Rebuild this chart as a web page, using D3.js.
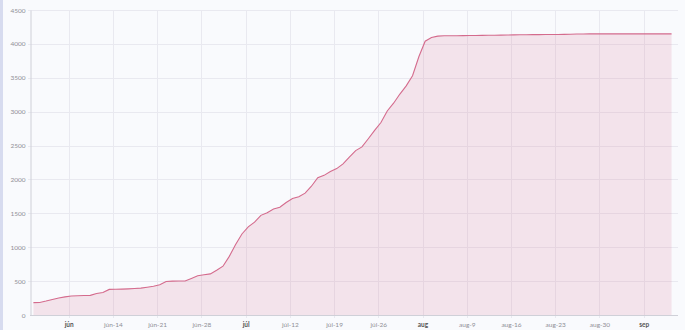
<!DOCTYPE html>
<html>
<head>
<meta charset="utf-8">
<script src="https://cdn.jsdelivr.net/npm/d3@7"></script>
<style>
  html, body { margin: 0; padding: 0; background: #f9fafd; }
  body { width: 685px; height: 330px; overflow: hidden; border-left: 3px solid #d7dbef; box-sizing: border-box; }
  svg { display: block; font-family: Lato, "Open Sans", sans-serif; }
</style>
</head>
<body>
<svg id="chart"></svg>
<script>
// daily cumulative values, starting 2020-06-01
const startDay = new Date(2020, 5, 1, 10);
const values = [
  182, 185, 206, 230, 252, 268, 281, 284, 287, 290,
  318, 333, 378, 380, 382, 385, 390, 396, 410, 425,
  445, 495, 500, 502, 502, 540, 578, 593, 607, 660,
  720, 865, 1040, 1195, 1300, 1370, 1470, 1510, 1565, 1590,
  1660, 1720, 1745, 1798, 1900, 2025, 2060, 2118, 2160, 2230,
  2330, 2425, 2480, 2600, 2725, 2840, 3010, 3125, 3260, 3380,
  3530, 3810, 4040, 4095, 4115, 4120, 4120, 4121, 4122, 4123,
  4124, 4125, 4127, 4128, 4130, 4131, 4133, 4134, 4135, 4136,
  4137, 4138, 4138, 4139, 4140, 4142, 4145, 4147, 4148, 4148,
  4148, 4148, 4148, 4148, 4148, 4148, 4148, 4148, 4148, 4148,
  4148, 4148
];
const yTicks = [0, 500, 1000, 1500, 2000, 2500, 3000, 3500, 4000, 4500];
const monthNames = ["jan", "feb", "mar", "apr", "máj", "jún", "júl", "aug", "sep", "okt", "nov", "dec"];

const data = values.map((v, i) => ({ date: d3.timeDay.offset(startDay, i), value: v }));

const width = 682, height = 330;
const plotLeft = 27, plotRight = 672, plotTop = 10, plotBottom = 315;

const svg = d3.select("#chart")
  .attr("width", width)
  .attr("height", height);

const x = d3.scaleTime()
  .domain([new Date(2020, 4, 31, 21), new Date(2020, 8, 10, 23)])
  .range([plotLeft, plotRight]);
const y = d3.scaleLinear()
  .domain([0, 4500])
  .range([plotBottom, plotTop]);

const weekTicks = x.ticks(d3.timeSunday.every(1));
const isMonthTick = d => d.getDate() <= 7;
const fmt = d => isMonthTick(d)
  ? monthNames[d.getMonth()]
  : monthNames[d.getMonth()] + "-" + d.getDate();

// grid
const grid = svg.append("g").attr("stroke", "#e9e9f0").attr("stroke-width", 1);
grid.selectAll("line.h")
  .data(yTicks.slice(1))
  .join("line")
    .attr("class", "h")
    .attr("x1", plotLeft - 2)
    .attr("x2", plotRight + 3)
    .attr("y1", d => Math.round(y(d)) + 0.5)
    .attr("y2", d => Math.round(y(d)) + 0.5);
grid.selectAll("line.v")
  .data(weekTicks)
  .join("line")
    .attr("class", "v")
    .attr("x1", d => Math.round(x(d)) + 0.5)
    .attr("x2", d => Math.round(x(d)) + 0.5)
    .attr("y1", plotTop)
    .attr("y2", plotBottom + 3);

// area + line
const area = d3.area()
  .x(d => x(d.date))
  .y0(y(0))
  .y1(d => y(d.value));
const line = d3.line()
  .x(d => x(d.date))
  .y(d => y(d.value));

svg.append("path")
  .datum(data)
  .attr("fill", "rgba(214, 90, 130, 0.14)")
  .attr("d", area);
svg.append("path")
  .datum(data)
  .attr("fill", "none")
  .attr("stroke", "#d46b8d")
  .attr("stroke-width", 1.1)
  .attr("d", line);

// axes
svg.append("g")
  .attr("transform", `translate(${plotLeft + 0.5},0)`)
  .call(d3.axisLeft(y).tickValues(yTicks).tickFormat(d3.format("d")).tickSize(0).tickPadding(5))
  .call(g => g.select(".domain").attr("stroke", "#cfd0d8"))
  .call(g => g.selectAll("text")
    .attr("fill", "#8f8f96")
    .attr("font-size", 6.5)
    .attr("font-family", "Lato, sans-serif"));

svg.append("g")
  .attr("transform", `translate(0,${plotBottom + 0.5})`)
  .call(d3.axisBottom(x).tickValues(weekTicks).tickFormat(fmt).tickSize(0).tickPadding(7))
  .call(g => g.select(".domain").attr("stroke", "#cfd0d8").attr("d", `M${plotLeft},0H${plotRight + 3}`))
  .call(g => g.selectAll("text")
    .attr("fill", d => isMonthTick(d) ? "#555" : "#8f8f96")
    .attr("font-weight", d => isMonthTick(d) ? "bold" : "normal")
    .attr("font-size", 6.5)
    .attr("font-family", "Lato, sans-serif"));
</script>
</body>
</html>
